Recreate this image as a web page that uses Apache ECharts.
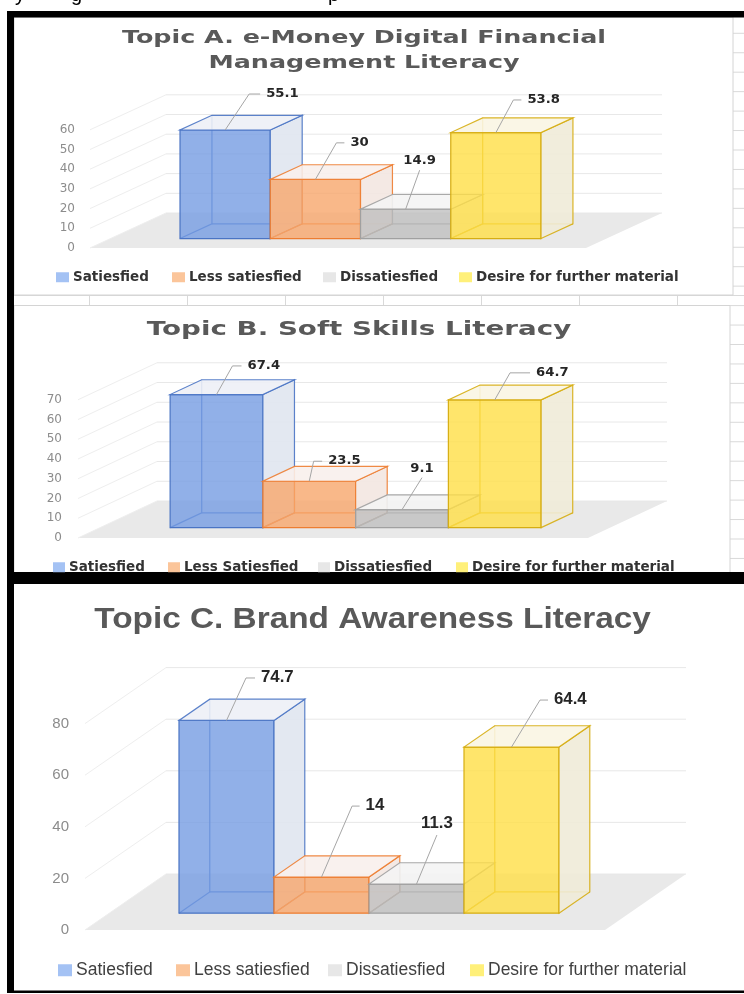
<!DOCTYPE html>
<html>
<head>
<meta charset="utf-8">
<title>Topic A / B / C literacy</title>
<script src="https://cdn.jsdelivr.net/npm/echarts@6/dist/echarts.min.js"></script>
<style>
  html, body { margin: 0; padding: 0; background: #fff; }
  #chart { width: 744px; height: 994px; }
</style>
</head>
<body>
<div id="chart"></div>
<script>
// legend entries (one series per entry)
var namesA = ['Satiesfied', 'Less satiesfied', 'Dissatiesfied', 'Desire for further material'];
var namesB = ['Satiesfied', 'Less Satiesfied', 'Dissatiesfied', 'Desire for further material'];
var namesC = ['Satiesfied', 'Less satiesfied', 'Dissatiesfied', 'Desire for further material'];

// values
var valuesA = [55.1, 30, 14.9, 53.8];
var valuesB = [67.4, 23.5, 9.1, 64.7];
var valuesC = [74.7, 14, 11.3, 64.4];

// value axis ticks
var ticksA = [0, 10, 20, 30, 40, 50, 60];
var ticksB = [0, 10, 20, 30, 40, 50, 60, 70];
var ticksC = [0, 20, 40, 60, 80];

var titleA = ['Topic A. e-Money Digital Financial', 'Management Literacy'];
var titleB = ['Topic B. Soft Skills Literacy'];
var titleC = ['Topic C. Brand Awareness Literacy'];

// colours of the four series
var palette = [
  { legend: '#a4c2f4', front: 'rgba(118,156,226,0.8)', side: '#e0e6ef', top: '#edf0f6', edge: '#4a74c4' },
  { legend: '#fbc59a', front: 'rgba(247,166,108,0.8)', side: '#f3e7e1', top: '#f8f0ec', edge: '#ed7d31' },
  { legend: '#e7e7e7', front: 'rgba(188,188,188,0.75)', side: '#ececec', top: '#f4f4f4', edge: '#a0a0a0' },
  { legend: '#fff07a', front: 'rgba(255,222,70,0.8)', side: '#efebd8', top: '#f9f5e3', edge: '#d6ad12' }
];

// layout of each panel (front plane of the bars + oblique depth)
var panels = [
  {
    names: namesA, values: valuesA, ticks: ticksA, title: titleA,
    left: 159.5, width: 361, base: 248, top: 129.8,
    floorL: 90, floorR: 586, dx: 76, dy: -35, z0: 0.27, z1: 0.69,
    family: 'DejaVu Sans', axisSize: 12, axisMargin: 15, valueSize: 12, valueScale: 1.1,
    titleSize: 18, titleScale: 1.41, titleX: 364, titleY: [38, 63.3],
    labelPos: [[24, -36, 11], [21, -36.6, 8], [14, -39, 0], [17.5, -32.6, 8]],
    legendX: [56, 172, 323, 459], legendY: 278, legendSize: 13.5, legendWeight: 'bold',
    legendColor: '#333', markW: 13, markH: 10
  },
  {
    names: namesB, values: valuesB, ticks: ticksB, title: titleB,
    left: 148, width: 371, base: 538, top: 399.75,
    floorL: 78, floorR: 588, dx: 79, dy: -37, z0: 0.28, z1: 0.68,
    family: 'DejaVu Sans', axisSize: 12, axisMargin: 16, valueSize: 12, valueScale: 1.1,
    titleSize: 20, titleScale: 1.387, titleX: 359, titleY: [330],
    labelPos: [[16, -28.6, 9], [4.4, -20, 8.5], [20, -32, 0], [15.3, -27, 20]],
    legendX: [53, 168, 318, 456], legendY: 568, legendSize: 13.5, legendWeight: 'bold',
    legendColor: '#333', markW: 12, markH: 10
  },
  {
    names: namesC, values: valuesC, ticks: ticksC, title: titleC,
    left: 154.7, width: 380, base: 930, top: 723.6,
    floorL: 85, floorR: 605, dx: 81, dy: -56, z0: 0.30, z1: 0.68,
    family: 'Liberation Sans', axisSize: 15, axisMargin: 16, valueSize: 16, valueScale: 1.05,
    titleSize: 29, titleScale: 1.15, titleX: 372.6, titleY: [620],
    labelPos: [[19.5, -42.5, 9], [30.6, -71, 7.5], [20.4, -49, 0], [28.5, -47, 8]],
    legendX: [58, 176, 328, 470], legendY: 971, legendSize: 17.5, legendWeight: 'normal',
    legendColor: '#404040', markW: 14, markH: 12
  }
];

function floorRenderer(p) {
  return function (params, api) {
    var y = api.coord([0, api.value(1)])[1];
    var kids = [];
    if (params.dataIndex === 0) {
      kids.push({
        type: 'polygon',
        shape: { points: [[p.floorL, y], [p.floorR, y], [p.floorR + p.dx, y + p.dy], [p.floorL + p.dx, y + p.dy]] },
        style: { fill: '#e9e9e9' }
      });
    }
    kids.push({
      type: 'line',
      shape: { x1: p.floorL, y1: y, x2: p.floorL + p.dx, y2: y + p.dy },
      style: { stroke: '#eeeeee', lineWidth: 1 }
    });
    kids.push({
      type: 'line',
      shape: { x1: p.floorL + p.dx, y1: y + p.dy, x2: p.floorR + p.dx, y2: y + p.dy },
      style: { stroke: '#e8e8e8', lineWidth: 1 }
    });
    return { type: 'group', children: kids };
  };
}

function barRenderer(p, si) {
  return function (params, api) {
    var cat = api.value(0);
    var v = api.value(1);
    var base = api.coord([cat, 0]);
    var yT = api.coord([cat, v])[1];
    var bw = api.size([1, 0])[0];
    var xL = base[0] - bw / 2, xR = base[0] + bw / 2, yB = base[1];
    function P(x, y, z) { return [x + z * p.dx, y + z * p.dy]; }
    var f1 = P(xL, yB, p.z0), f2 = P(xR, yB, p.z0), f3 = P(xR, yT, p.z0), f4 = P(xL, yT, p.z0);
    var b1 = P(xL, yB, p.z1), b2 = P(xR, yB, p.z1), b3 = P(xR, yT, p.z1), b4 = P(xL, yT, p.z1);
    var c = palette[si];
    var edge = { stroke: c.edge, lineWidth: 1.2, fill: 'none' };
    var kids = [
      { type: 'polyline', shape: { points: [f1, b1, b4] }, style: edge },
      { type: 'line', shape: { x1: b1[0], y1: b1[1], x2: b2[0], y2: b2[1] }, style: edge },
      { type: 'polygon', shape: { points: [f1, f2, f3, f4] }, style: { fill: c.front, stroke: c.edge, lineWidth: 1.2 } },
      { type: 'polygon', shape: { points: [f2, b2, b3, f3] }, style: { fill: c.side, stroke: c.edge, lineWidth: 1.2, opacity: 0.9 } },
      { type: 'polygon', shape: { points: [f4, f3, b3, b4] }, style: { fill: c.top, stroke: c.edge, lineWidth: 1.2, opacity: 0.9 } }
    ];
    // data label with leader line
    var lp = p.labelPos[si];
    var s = [(f3[0] + f4[0]) / 2, f4[1]];
    var k = [s[0] + lp[0], s[1] + lp[1]];
    var font = 'bold ' + p.valueSize + 'px "' + p.family + '"';
    var lead = { stroke: '#a6a6a6', lineWidth: 1, fill: 'none' };
    if (lp[2] > 0) {
      kids.push({ type: 'polyline', shape: { points: [s, k, [k[0] + lp[2], k[1]]] }, style: lead });
      kids.push({
        type: 'text', x: k[0] + lp[2] + 6, y: k[1], scaleX: p.valueScale,
        style: { text: String(v), fill: '#262626', font: font,
          textAlign: 'left', textVerticalAlign: 'middle', align: 'left', verticalAlign: 'middle' }
      });
    } else {
      kids.push({ type: 'polyline', shape: { points: [s, k] }, style: lead });
      kids.push({
        type: 'text', x: k[0], y: k[1] - 3, scaleX: p.valueScale,
        style: { text: String(v), fill: '#262626', font: font,
          textAlign: 'center', textVerticalAlign: 'bottom', align: 'center', verticalAlign: 'bottom' }
      });
    }
    return { type: 'group', children: kids };
  };
}

// sheet background: cell lines, chart areas, black frame
var graphic = [];
for (var r = 0; r < 28; r++) {
  var ry = 33.3 + r * 19.45;
  graphic.push({ type: 'line', shape: { x1: 14, y1: ry, x2: 744, y2: ry }, style: { stroke: '#d9d9d9', lineWidth: 1 } });
}
graphic.push({ type: 'line', shape: { x1: 14, y1: 295.5, x2: 744, y2: 295.5 }, style: { stroke: '#d9d9d9', lineWidth: 1 } });
for (var cx = 0; cx < 7; cx++) {
  var lx = 89.5 + cx * 98;
  graphic.push({ type: 'line', shape: { x1: lx, y1: 295, x2: lx, y2: 306 }, style: { stroke: '#d9d9d9', lineWidth: 1 } });
}
graphic.push({ type: 'rect', shape: { x: 14, y: 17, width: 719, height: 278 }, style: { fill: '#fff', stroke: '#d4d4d4', lineWidth: 1 } });
graphic.push({ type: 'rect', shape: { x: 14, y: 305.5, width: 716, height: 267 }, style: { fill: '#fff', stroke: '#d4d4d4', lineWidth: 1 } });
graphic.push({ type: 'rect', shape: { x: 14, y: 584, width: 730, height: 407 }, style: { fill: '#fff' } });
graphic.push({ type: 'rect', shape: { x: 7, y: 11, width: 737, height: 6.5 }, style: { fill: '#000' } });
graphic.push({ type: 'rect', shape: { x: 7, y: 11, width: 7, height: 982 }, style: { fill: '#000' } });
graphic.push({ type: 'rect', shape: { x: 7, y: 572, width: 737, height: 12 }, style: { fill: '#000' } });
graphic.push({ type: 'rect', shape: { x: 7, y: 990.5, width: 737, height: 2.5 }, style: { fill: '#000' } });
// cut-off text line above the frame
[['y', 15], ['g', 71], ['p', 328]].forEach(function (t) {
  graphic.push({ type: 'text', x: t[1], y: 5, style: { text: t[0], fill: '#000', font: '20px "Liberation Sans"',
    textAlign: 'left', textVerticalAlign: 'bottom', align: 'left', verticalAlign: 'bottom' } });
});

var option = {
  animation: false,
  backgroundColor: '#fff',
  grid: [], xAxis: [], yAxis: [], legend: [], series: [],
  graphic: graphic
};

panels.forEach(function (p, pi) {
  p.title.forEach(function (line, li) {
    graphic.push({
      type: 'text', x: p.titleX, y: p.titleY[li], scaleX: p.titleScale,
      style: { text: line, fill: '#595959', font: 'bold ' + p.titleSize + 'px "' + p.family + '"',
        textAlign: 'center', textVerticalAlign: 'middle', align: 'center', verticalAlign: 'middle' }
    });
  });

  option.grid.push({ left: p.left, width: p.width, top: p.top, bottom: 994 - p.base, outerBoundsMode: 'none' });
  option.xAxis.push({ type: 'category', gridIndex: pi, data: p.names, show: false });
  option.yAxis.push({
    type: 'value', gridIndex: pi,
    min: p.ticks[0], max: p.ticks[p.ticks.length - 1], interval: p.ticks[1] - p.ticks[0],
    offset: p.left - p.floorL,
    axisLine: { show: false }, axisTick: { show: false }, splitLine: { show: false },
    axisLabel: { margin: p.axisMargin, color: '#8c8c8c', fontFamily: p.family, fontSize: p.axisSize }
  });

  option.series.push({
    type: 'custom', name: 'floor' + pi, xAxisIndex: pi, yAxisIndex: pi, z: 1, clip: false, silent: true,
    data: p.ticks.map(function (t) { return [0, t]; }),
    renderItem: floorRenderer(p)
  });

  p.names.forEach(function (name, si) {
    option.series.push({
      type: 'custom', name: name, xAxisIndex: pi, yAxisIndex: pi, z: 2 + si, clip: false,
      itemStyle: { color: palette[si].legend },
      data: [[si, p.values[si]]],
      renderItem: barRenderer(p, si)
    });
    option.legend.push({
      data: [name], left: p.legendX[si], top: p.legendY - p.legendSize / 2 - 1,
      padding: 0, itemGap: 0, itemWidth: p.markW, itemHeight: p.markH, icon: 'rect',
      selectedMode: false,
      textStyle: { color: p.legendColor, fontFamily: p.family, fontSize: p.legendSize, fontWeight: p.legendWeight, padding: [0, 0, 0, -1] }
    });
  });
});

var chart = echarts.init(document.getElementById('chart'));
chart.setOption(option);
</script>
</body>
</html>
